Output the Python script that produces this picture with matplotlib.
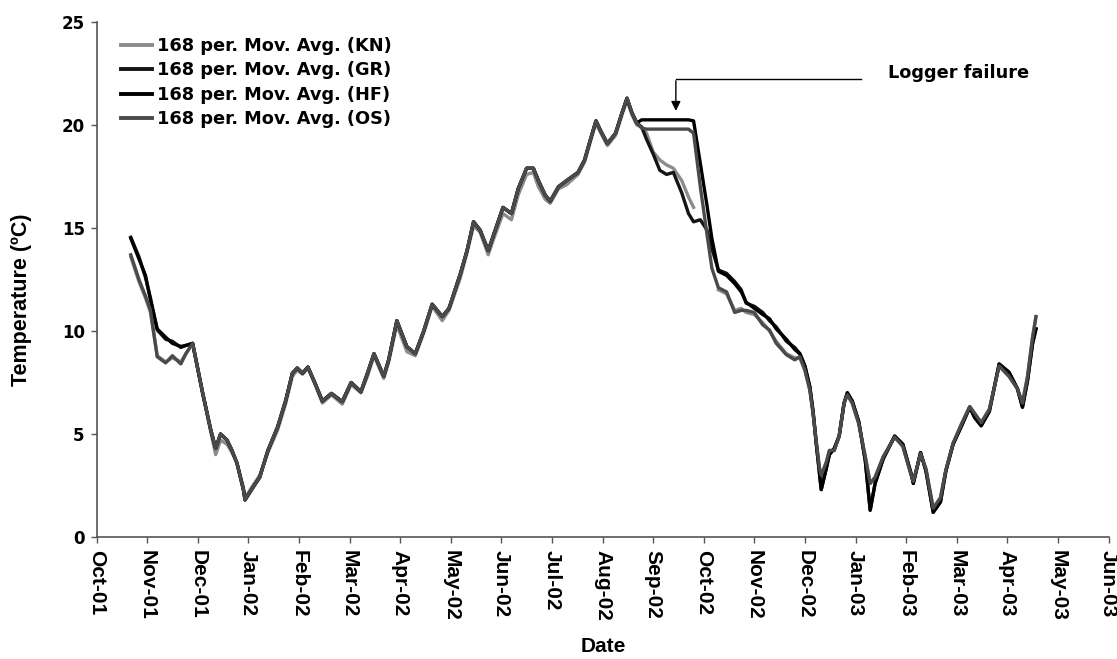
import calendar
import numpy as np
import matplotlib
matplotlib.use("Agg")
import matplotlib.pyplot as plt

# ---------------- data ----------------
month_labels = ["Oct-01", "Nov-01", "Dec-01", "Jan-02", "Feb-02", "Mar-02", "Apr-02",
                "May-02", "Jun-02", "Jul-02", "Aug-02", "Sep-02", "Oct-02", "Nov-02",
                "Dec-02", "Jan-03", "Feb-03", "Mar-03", "Apr-03", "May-03", "Jun-03"]

series_names = ["168 per. Mov. Avg. (KN)", "168 per. Mov. Avg. (GR)",
                "168 per. Mov. Avg. (HF)", "168 per. Mov. Avg. (OS)"]

early_dates = ["2001-10-22", "2001-10-27", "2001-10-31", "2001-11-03", "2001-11-07",
               "2001-11-12", "2001-11-16", "2001-11-21", "2001-11-24"]
early_KN = [13.6, 12.4, 11.6, 10.9, 8.8, 8.5, 8.7, 8.5, 8.9]
early_GR = [14.55, 13.6, 12.6, 11.6, 10.05, 9.6, 9.5, 9.2, 9.3]
early_HF = [14.5, 13.5, 12.7, 11.5, 10.1, 9.7, 9.4, 9.25, 9.3]
early_OS = [13.7, 12.5, 11.7, 11.0, 8.75, 8.45, 8.8, 8.4, 8.9]

mid_dates = ["2001-11-28", "2001-12-04", "2001-12-09", "2001-12-12", "2001-12-15",
             "2001-12-19", "2001-12-22", "2001-12-25", "2001-12-29", "2001-12-30",
             "2002-01-03", "2002-01-08", "2002-01-13", "2002-01-19", "2002-01-24",
             "2002-01-28", "2002-01-31", "2002-02-03", "2002-02-06", "2002-02-10",
             "2002-02-14", "2002-02-19", "2002-02-25", "2002-03-02", "2002-03-08",
             "2002-03-12", "2002-03-16", "2002-03-22", "2002-03-25", "2002-03-30",
             "2002-04-05", "2002-04-10", "2002-04-15", "2002-04-20", "2002-04-26",
             "2002-04-30", "2002-05-07", "2002-05-11", "2002-05-15", "2002-05-19",
             "2002-05-24", "2002-05-27", "2002-06-02", "2002-06-07", "2002-06-11",
             "2002-06-16", "2002-06-20", "2002-06-23", "2002-06-27", "2002-06-30",
             "2002-07-05", "2002-07-10", "2002-07-17", "2002-07-21", "2002-07-25",
             "2002-07-28", "2002-07-31", "2002-08-04", "2002-08-09", "2002-08-13",
             "2002-08-16", "2002-08-19", "2002-08-22"]
mid_common = [9.4, 7.0, 5.2, 4.3, 5.0, 4.7, 4.2, 3.6, 2.3, 1.8,
              2.3, 2.9, 4.2, 5.35, 6.65, 7.95, 8.2, 7.95, 8.25, 7.45,
              6.6, 6.97, 6.57, 7.5, 7.05, 7.95, 8.9, 7.8, 8.6, 10.5,
              9.24, 8.9, 10.0, 11.3, 10.7, 11.1, 12.8, 13.9, 15.3, 14.9,
              13.9, 14.6, 16.0, 15.7, 16.9, 17.9, 17.9, 17.3, 16.6, 16.3,
              17.0, 17.3, 17.7, 18.3, 19.4, 20.2, 19.7, 19.1, 19.6, 20.6,
              21.3, 20.6, 20.1]
mid_KN = [9.4, 7.0, 5.1, 4.0, 4.7, 4.5, 4.1, 3.6, 2.4, 1.9,
          2.4, 3.0, 4.1, 5.2, 6.5, 7.8, 8.1, 7.9, 8.2, 7.4,
          6.5, 6.9, 6.45, 7.4, 7.0, 7.8, 8.8, 7.7, 8.5, 10.3,
          9.0, 8.8, 9.9, 11.2, 10.5, 11.0, 12.6, 13.8, 15.1, 14.8,
          13.7, 14.4, 15.7, 15.4, 16.6, 17.6, 17.7, 17.0, 16.4, 16.2,
          16.9, 17.1, 17.6, 18.2, 19.3, 20.1, 19.6, 19.0, 19.5, 20.5,
          21.2, 20.5, 20.0]

sep_dates = ["2002-08-25", "2002-08-28", "2002-09-01", "2002-09-05", "2002-09-09",
             "2002-09-13", "2002-09-18", "2002-09-22", "2002-09-25", "2002-09-29",
             "2002-10-03", "2002-10-06", "2002-10-10"]
nan = float("nan")
sep_KN = [19.9, 19.6, 18.7, 18.3, 18.06, 17.9, 17.3, 16.5, 16.0, nan, nan, nan, 12.0]
sep_GR = [19.9, 19.3, 18.6, 17.8, 17.6, 17.7, 16.7, 15.7, 15.3, 15.4, 14.9, 14.0, 12.96]
sep_HF = [20.25, 20.25, 20.25, 20.25, 20.25, 20.25, 20.25, 20.25, 20.2, 18.15, 16.1, 14.5, 12.9]
sep_OS = [19.85, 19.8, 19.8, 19.8, 19.8, 19.8, 19.8, 19.8, 19.6, 17.0, 14.7, 13.05, 12.1]

oct_dates = ["2002-10-15", "2002-10-20", "2002-10-24", "2002-10-27", "2002-11-01",
             "2002-11-06", "2002-11-10", "2002-11-14", "2002-11-20", "2002-11-25",
             "2002-11-28"]
oct_KN = [11.8, 11.0, 11.1, 10.9, 10.8, 10.4, 10.0, 9.5, 8.9, 8.7, 8.7]
oct_GR = [12.8, 12.4, 12.0, 11.35, 11.2, 10.9, 10.5, 10.2, 9.5, 9.2, 8.9]
oct_HF = [12.7, 12.3, 11.9, 11.4, 11.1, 10.8, 10.6, 10.1, 9.6, 9.1, 8.9]
oct_OS = [11.9, 10.9, 11.0, 11.0, 10.9, 10.3, 10.05, 9.4, 8.85, 8.6, 8.75]

late_dates = ["2002-12-01", "2002-12-04", "2002-12-06", "2002-12-08", "2002-12-10",
              "2002-12-11", "2002-12-14", "2002-12-16", "2002-12-19", "2002-12-22",
              "2002-12-25", "2002-12-27", "2002-12-30", "2003-01-03", "2003-01-07",
              "2003-01-10", "2003-01-13", "2003-01-18", "2003-01-25", "2003-01-30",
              "2003-02-04", "2003-02-05", "2003-02-09", "2003-02-12", "2003-02-16",
              "2003-02-20", "2003-02-23", "2003-02-27", "2003-03-04", "2003-03-09",
              "2003-03-12", "2003-03-16", "2003-03-21", "2003-03-27", "2003-04-02",
              "2003-04-07", "2003-04-10", "2003-04-13", "2003-04-16", "2003-04-18"]
late_gray = [8.1, 7.14, 6.0, 4.6, 3.3, 3.0, 3.6, 4.2, 4.2, 4.9,
             6.5, 6.9, 6.5, 5.5, 3.9, 2.6, 2.9, 3.9, 4.85, 4.4,
             2.95, 2.7, 4.05, 3.3, 1.4, 1.9, 3.25, 4.55, 5.5, 6.33,
             6.0, 5.55, 6.2, 8.3, 7.8, 7.2, 6.5, 7.8, 9.7, 10.7]
late_dark = [8.3, 7.3, 6.1, 4.5, 3.0, 2.3, 3.3, 4.0, 4.3, 4.9,
             6.5, 7.0, 6.6, 5.6, 3.7, 1.3, 2.6, 3.8, 4.9, 4.5,
             3.0, 2.6, 4.1, 3.2, 1.2, 1.7, 3.2, 4.5, 5.4, 6.3,
             5.8, 5.4, 6.1, 8.4, 8.0, 7.2, 6.3, 7.6, 9.4, 10.1]

all_dates = early_dates + mid_dates + sep_dates + oct_dates + late_dates
values = {
    "KN": early_KN + mid_KN + sep_KN + oct_KN + late_gray,
    "GR": early_GR + mid_common + sep_GR + oct_GR + late_dark,
    "HF": early_HF + mid_common + sep_HF + oct_HF + late_dark,
    "OS": early_OS + mid_common + sep_OS + oct_OS + late_gray,
}
colors = {"KN": "#8c8c8c", "GR": "#151515", "HF": "#000000", "OS": "#4a4a4a"}


def month_pos(s):
    y, m, d = map(int, s.split("-"))
    dim = calendar.monthrange(y, m)[1]
    return (y - 2001) * 12 + (m - 10) + (d - 1) / dim


x = np.array([month_pos(s) for s in all_dates])

# ---------------- figure ----------------
W, H = 1117, 659
fig = plt.figure(figsize=(W / 100, H / 100), dpi=100)
L, R, T, B = 96.5, 1108.5, 22, 537
ax = fig.add_axes([L / W, 1 - B / H, (R - L) / W, (B - T) / H])

for key, name in zip(["KN", "GR", "HF", "OS"], series_names):
    ax.plot(x, np.array(values[key], dtype=float), color=colors[key], lw=2.4,
            label=name, solid_joinstyle="round")

ax.set_xlim(0, 20)
ax.set_ylim(0, 25)
ax.set_yticks([0, 5, 10, 15, 20, 25])
ax.set_xticks(range(21))
ax.set_xticklabels(month_labels, rotation=270, ha="center", va="top",
                   fontfamily="Liberation Sans", fontweight="bold", fontsize=15)
for lab in ax.get_yticklabels():
    lab.set_fontfamily("DejaVu Sans")
    lab.set_fontweight("bold")
    lab.set_fontsize(12)

for side in ["top", "right"]:
    ax.spines[side].set_visible(False)
for side in ["left", "bottom"]:
    ax.spines[side].set_color("#555555")
    ax.spines[side].set_linewidth(1.2)
ax.tick_params(axis="both", direction="out", length=4.5, width=1.0, color="#555555")
ax.tick_params(axis="x", pad=5)
ax.tick_params(axis="y", pad=4)

# legend
leg = fig.legend(loc="upper left", bbox_to_anchor=(121 / W, 1 - 37 / H), frameon=False,
                 prop={"family": "DejaVu Sans", "weight": "bold", "size": 12.8},
                 handlelength=1.75, handletextpad=0.3, labelspacing=0.36,
                 borderpad=0, borderaxespad=0)
for h in leg.get_lines():
    h.set_linewidth(2.8)

# logger failure annotation
ax.plot([15.1, 11.45], [22.23, 22.23], color="black", lw=1.0)
ax.annotate("", xy=(11.45, 20.55), xytext=(11.45, 22.28),
            arrowprops=dict(arrowstyle="-|>", color="black", lw=1.0, mutation_scale=14))
fig.text(888 / W, 1 - 73 / H, "Logger failure", ha="left", va="center",
         fontfamily="DejaVu Sans", fontweight="bold", fontsize=12.8)

fig.text(22 / W, 1 - 300 / H, "Temperature (\u00baC)", rotation=90, ha="center",
         va="center", fontfamily="Liberation Sans", fontweight="bold", fontsize=15.5)
fig.text(603 / W, 1 - 647 / H, "Date", ha="center", va="center",
         fontfamily="Liberation Sans", fontweight="bold", fontsize=15)

fig.savefig("out.png", dpi=100)
